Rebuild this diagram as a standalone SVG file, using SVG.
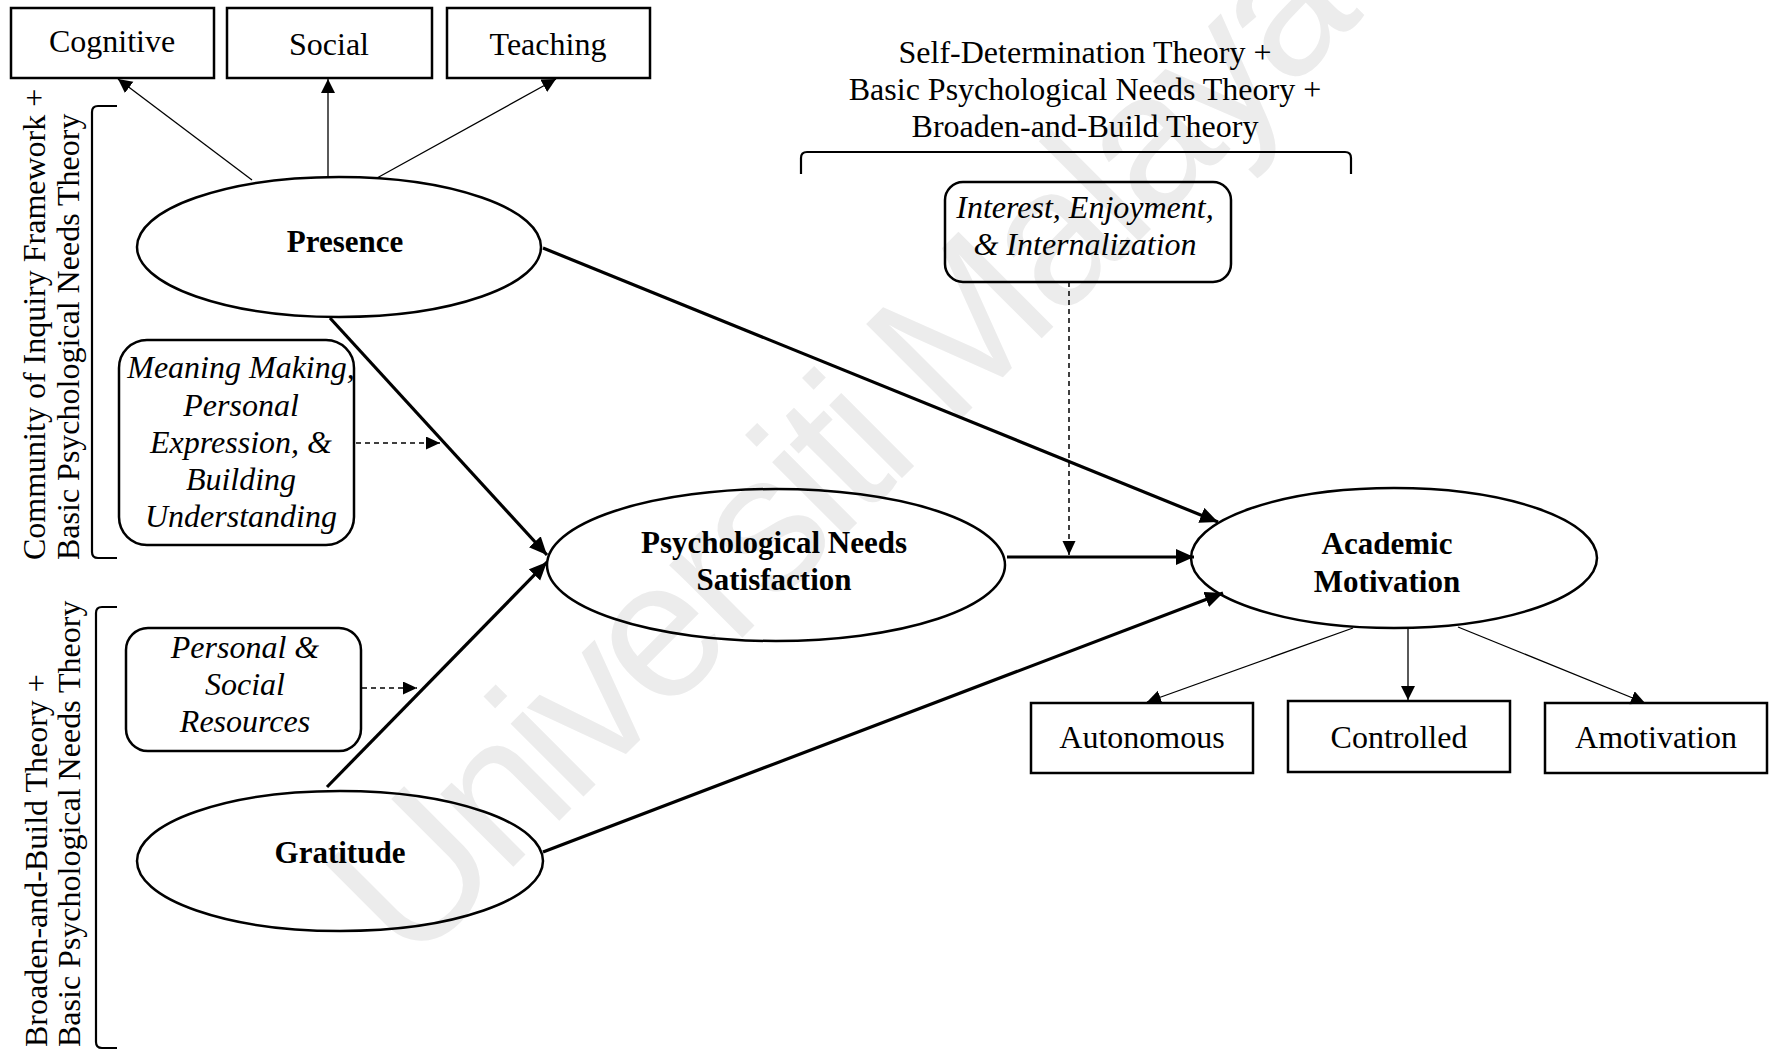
<svg xmlns="http://www.w3.org/2000/svg" width="1769" height="1052" viewBox="0 0 1769 1052">
<style>
  .t { font-family: "Liberation Serif", "Times New Roman", serif; font-size: 32px; fill: #000; }
  .c { text-anchor: middle; }
  .b { font-weight: bold; font-size: 31px; }
  .i { font-style: italic; }
  .node { fill: none; stroke: #000; stroke-width: 2.5; }
  .thin { fill: none; stroke: #000; stroke-width: 1.3; }
  .thick { fill: none; stroke: #000; stroke-width: 3.2; }
  .dash { fill: none; stroke: #000; stroke-width: 1.5; stroke-dasharray: 5 4; }
  .brk { fill: none; stroke: #000; stroke-width: 2.2; }
  .wm { font-family: "Liberation Sans", Arial, sans-serif; font-size: 195px; fill: #ececec; }
</style>
<defs>
  <marker id="ah" markerUnits="userSpaceOnUse" markerWidth="16" markerHeight="16" refX="14" refY="7" orient="auto">
    <path d="M0,0 L14,7 L0,14 Z" fill="#000"/>
  </marker>
  <marker id="ahT" markerUnits="userSpaceOnUse" markerWidth="20" markerHeight="18" refX="18" refY="8" orient="auto">
    <path d="M0,0 L18,8 L0,16 Z" fill="#000"/>
  </marker>
  <marker id="ahD" markerUnits="userSpaceOnUse" markerWidth="16" markerHeight="14" refX="14" refY="6.5" orient="auto">
    <path d="M0,0 L14,6.5 L0,13 Z" fill="#000"/>
  </marker>
</defs>

<text class="wm" transform="translate(410,970) rotate(-45)" textLength="1350" lengthAdjust="spacing">Universiti Malaya</text>

<g id="brackets">
  <path class="brk" d="M117,106 L98,106 Q92,106 92,112 L92,552 Q92,558 98,558 L117,558"/>
  <path class="brk" d="M117,607 L102,607 Q96,607 96,613 L96,1042 Q96,1048 102,1048 L117,1048"/>
  <path class="brk" d="M801,174 L801,158 Q801,152 807,152 L1345,152 Q1351,152 1351,158 L1351,174"/>
  <text class="t" transform="translate(45,560) rotate(-90)">Community of Inquiry Framework +</text>
  <text class="t" transform="translate(79,560) rotate(-90)">Basic Psychological Needs Theory</text>
  <text class="t" transform="translate(47,1047) rotate(-90)">Broaden-and-Build Theory +</text>
  <text class="t" transform="translate(80,1047) rotate(-90)">Basic Psychological Needs Theory</text>
  <text class="t c" x="1085" y="63">Self-Determination Theory +</text>
  <text class="t c" x="1085" y="100">Basic Psychological Needs Theory +</text>
  <text class="t c" x="1085" y="137">Broaden-and-Build Theory</text>
</g>

<g id="cognitive">
  <rect class="node" x="11" y="8" width="203" height="70"/>
  <text class="t c" x="112" y="52">Cognitive</text>
</g>
<g id="social">
  <rect class="node" x="227" y="8" width="205" height="70"/>
  <text class="t c" x="329" y="55">Social</text>
</g>
<g id="teaching">
  <rect class="node" x="447" y="8" width="203" height="70"/>
  <text class="t c" x="548" y="55">Teaching</text>
</g>

<g id="presence">
  <ellipse class="node" cx="339" cy="247" rx="202" ry="70"/>
  <text class="t b c" x="345" y="252">Presence</text>
</g>

<g id="meaning">
  <rect class="node" x="119" y="340" width="235" height="205" rx="28"/>
  <text class="t i c" x="241" y="378">Meaning Making,</text>
  <text class="t i c" x="241" y="416">Personal</text>
  <text class="t i c" x="241" y="453">Expression, &amp;</text>
  <text class="t i c" x="241" y="490">Building</text>
  <text class="t i c" x="241" y="527">Understanding</text>
</g>

<g id="resources">
  <rect class="node" x="126" y="628" width="235" height="123" rx="22"/>
  <text class="t i c" x="245" y="658">Personal &amp;</text>
  <text class="t i c" x="245" y="695">Social</text>
  <text class="t i c" x="245" y="732">Resources</text>
</g>

<g id="gratitude">
  <ellipse class="node" cx="340" cy="861" rx="203" ry="70"/>
  <text class="t b c" x="340" y="863">Gratitude</text>
</g>

<g id="pns">
  <ellipse class="node" cx="776" cy="565" rx="229" ry="76"/>
  <text class="t b c" x="774" y="553">Psychological Needs</text>
  <text class="t b c" x="774" y="590">Satisfaction</text>
</g>

<g id="interest">
  <rect class="node" x="945" y="182" width="286" height="100" rx="18"/>
  <text class="t i c" x="1085" y="218">Interest, Enjoyment,</text>
  <text class="t i c" x="1085" y="255">&amp; Internalization</text>
</g>

<g id="motivation">
  <ellipse class="node" cx="1394" cy="558" rx="203" ry="70"/>
  <text class="t b c" x="1387" y="554">Academic</text>
  <text class="t b c" x="1387" y="592">Motivation</text>
</g>

<g id="autonomous">
  <rect class="node" x="1031" y="703" width="222" height="70"/>
  <text class="t c" x="1142" y="748">Autonomous</text>
</g>
<g id="controlled">
  <rect class="node" x="1288" y="701" width="222" height="71"/>
  <text class="t c" x="1399" y="748">Controlled</text>
</g>
<g id="amotivation">
  <rect class="node" x="1545" y="703" width="222" height="70"/>
  <text class="t c" x="1656" y="748">Amotivation</text>
</g>

<g id="connectors">
  <line class="thin" x1="252" y1="180" x2="118" y2="79" marker-end="url(#ah)"/>
  <line class="thin" x1="328" y1="177" x2="328" y2="79" marker-end="url(#ah)"/>
  <line class="thin" x1="377" y1="178" x2="556" y2="79" marker-end="url(#ah)"/>
  <line class="thick" x1="330" y1="318" x2="547" y2="555" marker-end="url(#ahT)"/>
  <line class="thick" x1="327" y1="787" x2="547" y2="562" marker-end="url(#ahT)"/>
  <line class="thick" x1="543" y1="248" x2="1218" y2="522" marker-end="url(#ahT)"/>
  <line class="thick" x1="543" y1="852" x2="1223" y2="593" marker-end="url(#ahT)"/>
  <line class="thick" x1="1007" y1="557" x2="1194" y2="557" marker-end="url(#ahT)"/>
  <line class="dash" x1="1069" y1="282" x2="1069" y2="555" marker-end="url(#ahD)"/>
  <line class="dash" x1="356" y1="443" x2="440" y2="443" marker-end="url(#ahD)"/>
  <line class="dash" x1="362" y1="688" x2="417" y2="688" marker-end="url(#ahD)"/>
  <line class="thin" x1="1353" y1="628" x2="1147" y2="702" marker-end="url(#ah)"/>
  <line class="thin" x1="1408" y1="627" x2="1408" y2="700" marker-end="url(#ah)"/>
  <line class="thin" x1="1458" y1="627" x2="1645" y2="703" marker-end="url(#ah)"/>
</g>
</svg>
